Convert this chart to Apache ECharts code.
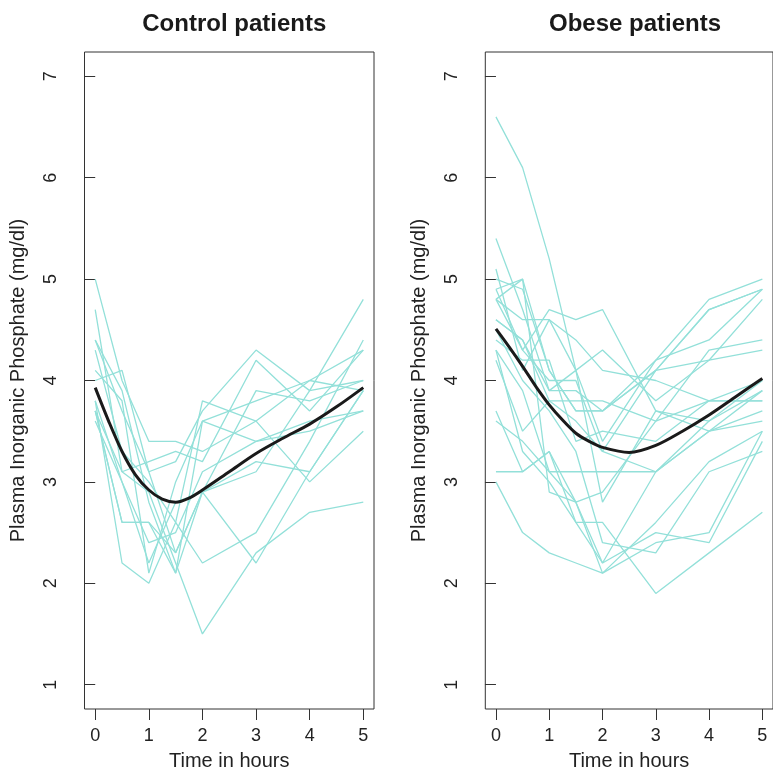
<!DOCTYPE html>
<html>
<head>
<meta charset="utf-8">
<title>Plasma Inorganic Phosphate</title>
<script src="https://cdn.jsdelivr.net/npm/echarts@6/dist/echarts.min.js"></script>
<style>
  html, body { margin: 0; padding: 0; background: #fff; }
  #chart { width: 773px; height: 776px; }
</style>
</head>
<body>
<div id="chart"></div>
<script>
// Tiempos de medición (horas)
const times = [0, 0.5, 1, 1.5, 2, 3, 4, 5];

// Pacientes control (un array por paciente)
const controlPatients = [
  [4.3, 3.3, 3.0, 2.6, 2.2, 2.5, 3.4, 4.4],
  [3.7, 2.6, 2.6, 2.1, 2.9, 3.2, 3.1, 3.9],
  [4.0, 4.1, 3.1, 2.3, 2.9, 3.1, 3.9, 4.0],
  [3.6, 3.0, 2.2, 2.8, 2.9, 3.9, 3.8, 4.0],
  [4.1, 3.8, 2.1, 3.0, 3.6, 3.4, 3.6, 3.7],
  [3.8, 2.2, 2.0, 2.6, 3.8, 3.6, 3.0, 3.5],
  [3.8, 3.0, 2.4, 2.5, 3.1, 3.4, 3.5, 3.7],
  [4.4, 3.9, 2.8, 2.1, 3.6, 3.8, 4.0, 3.9],
  [5.0, 4.0, 3.4, 3.4, 3.3, 3.6, 4.0, 4.3],
  [3.7, 3.1, 2.9, 2.2, 1.5, 2.3, 2.7, 2.8],
  [3.7, 2.6, 2.6, 2.3, 2.9, 2.2, 3.1, 3.9],
  [4.4, 3.7, 3.1, 3.2, 3.7, 4.3, 3.9, 4.8],
  [4.7, 3.1, 3.2, 3.3, 3.2, 4.2, 3.7, 4.3]
];

// Pacientes obesos
const obesePatients = [
  [4.3, 3.3, 3.0, 2.6, 2.2, 2.5, 2.4, 3.4],
  [5.0, 4.9, 4.1, 3.7, 3.7, 4.1, 4.7, 4.9],
  [4.6, 4.4, 3.9, 3.9, 3.7, 4.2, 4.8, 5.0],
  [4.3, 3.9, 3.1, 3.1, 3.1, 3.1, 3.6, 4.0],
  [3.1, 3.1, 3.3, 2.6, 2.6, 1.9, 2.3, 2.7],
  [4.8, 5.0, 2.9, 2.8, 2.2, 3.1, 3.5, 3.6],
  [3.7, 3.1, 3.3, 2.8, 2.9, 3.6, 4.3, 4.4],
  [5.4, 4.7, 3.9, 4.1, 2.8, 3.7, 3.5, 3.7],
  [3.0, 2.5, 2.3, 2.2, 2.1, 2.6, 3.2, 3.5],
  [4.9, 5.0, 4.1, 3.7, 3.7, 4.1, 4.7, 4.9],
  [4.8, 4.3, 4.7, 4.6, 4.7, 3.7, 3.6, 3.9],
  [4.4, 4.2, 4.2, 3.4, 3.5, 3.4, 3.8, 4.0],
  [4.9, 4.3, 4.0, 4.0, 3.3, 4.1, 4.2, 4.3],
  [5.1, 4.1, 4.6, 4.1, 3.4, 4.2, 4.4, 4.9],
  [4.8, 4.6, 4.6, 4.4, 4.1, 4.0, 3.8, 3.8],
  [4.2, 3.5, 3.8, 3.6, 3.3, 3.1, 3.5, 3.9],
  [6.6, 6.1, 5.2, 4.1, 4.3, 3.8, 4.2, 4.8],
  [3.6, 3.4, 3.1, 2.8, 2.1, 2.4, 2.5, 3.5],
  [4.5, 4.0, 3.7, 3.3, 2.4, 2.3, 3.1, 3.3],
  [4.6, 4.4, 3.8, 3.8, 3.8, 3.6, 3.8, 3.8]
];

// Curva suavizada
const fitTimes = [0, 0.25, 0.5, 0.75, 1, 1.25, 1.5, 1.75, 2, 2.5, 3, 3.5, 4, 4.5, 5];
const controlFit = [3.93, 3.60, 3.30, 3.07, 2.92, 2.83, 2.80, 2.84, 2.92, 3.10, 3.28, 3.43, 3.57, 3.74, 3.93];
const obeseFit = [4.51, 4.33, 4.14, 3.94, 3.76, 3.61, 3.48, 3.40, 3.34, 3.29, 3.36, 3.50, 3.66, 3.84, 4.02];

// Etiquetas de ejes
const xTicks = [0, 1, 2, 3, 4, 5];
const yTicks = [1, 2, 3, 4, 5, 6, 7];
const panelTitles = ["Control patients", "Obese patients"];

const FONT = "Liberation Sans, Arial, Helvetica, sans-serif";
const TEAL = "#93E0D9";

const chart = echarts.init(document.getElementById("chart"));

const gridLefts = [84.5, 485.3];

function xAxisFor(i) {
  return {
    type: "value",
    gridIndex: i,
    min: -0.2,
    max: 5.2,
    name: "Time in hours",
    nameLocation: "middle",
    nameGap: 42,
    nameTextStyle: { fontFamily: FONT, fontSize: 20, color: "#222" },
    axisLine: { show: false },
    axisTick: { show: true, length: 11, customValues: xTicks, lineStyle: { color: "#333", width: 1 } },
    axisLabel: { customValues: xTicks, margin: 18, fontFamily: FONT, fontSize: 18, color: "#222" },
    splitLine: { show: false },
  };
}

function yAxisFor(i) {
  return {
    type: "value",
    gridIndex: i,
    min: 0.76,
    max: 7.24,
    name: "Plasma Inorganic Phosphate (mg/dl)",
    nameLocation: "middle",
    nameGap: 56,
    nameRotate: 90,
    nameTextStyle: { fontFamily: FONT, fontSize: 20, color: "#222" },
    axisLine: { show: false },
    axisTick: { show: true, length: 11, customValues: yTicks, lineStyle: { color: "#333", width: 1 } },
    axisLabel: { customValues: yTicks, rotate: 90, margin: 24, fontFamily: FONT, fontSize: 18, color: "#222" },
    splitLine: { show: false },
  };
}

function patientSeries(patients, i) {
  return patients.map((vals, k) => ({
    name: panelTitles[i] + " " + (k + 1),
    type: "line",
    xAxisIndex: i,
    yAxisIndex: i,
    data: times.map((t, j) => [t, vals[j]]),
    symbol: "none",
    silent: true,
    lineStyle: { color: TEAL, width: 1.3 },
    z: 2,
  }));
}

function fitSeries(fit, i) {
  return {
    name: panelTitles[i] + " fit",
    type: "line",
    xAxisIndex: i,
    yAxisIndex: i,
    data: fitTimes.map((t, j) => [t, fit[j]]),
    symbol: "none",
    smooth: 0.3,
    silent: true,
    lineStyle: { color: "#1a1a1a", width: 3 },
    z: 5,
  };
}

const option = {
  animation: false,
  backgroundColor: "#fff",
  title: panelTitles.map((txt, i) => ({
    text: txt,
    left: gridLefts[i] + 144.75,
    top: 7,
    textAlign: "center",
    textStyle: { fontFamily: FONT, fontSize: 24, fontWeight: "bold", color: "#1a1a1a" },
  })),
  grid: gridLefts.map((l) => ({
    left: l,
    top: 52,
    width: 289.5,
    height: 659.7,
    show: true,
    borderColor: "#333",
    borderWidth: 1,
    backgroundColor: "transparent",
  })),
  xAxis: [xAxisFor(0), xAxisFor(1)],
  yAxis: [yAxisFor(0), yAxisFor(1)],
  series: [
    ...patientSeries(controlPatients, 0),
    ...patientSeries(obesePatients, 1),
    fitSeries(controlFit, 0),
    fitSeries(obeseFit, 1),
  ],
};

chart.setOption(option);
</script>
</body>
</html>
